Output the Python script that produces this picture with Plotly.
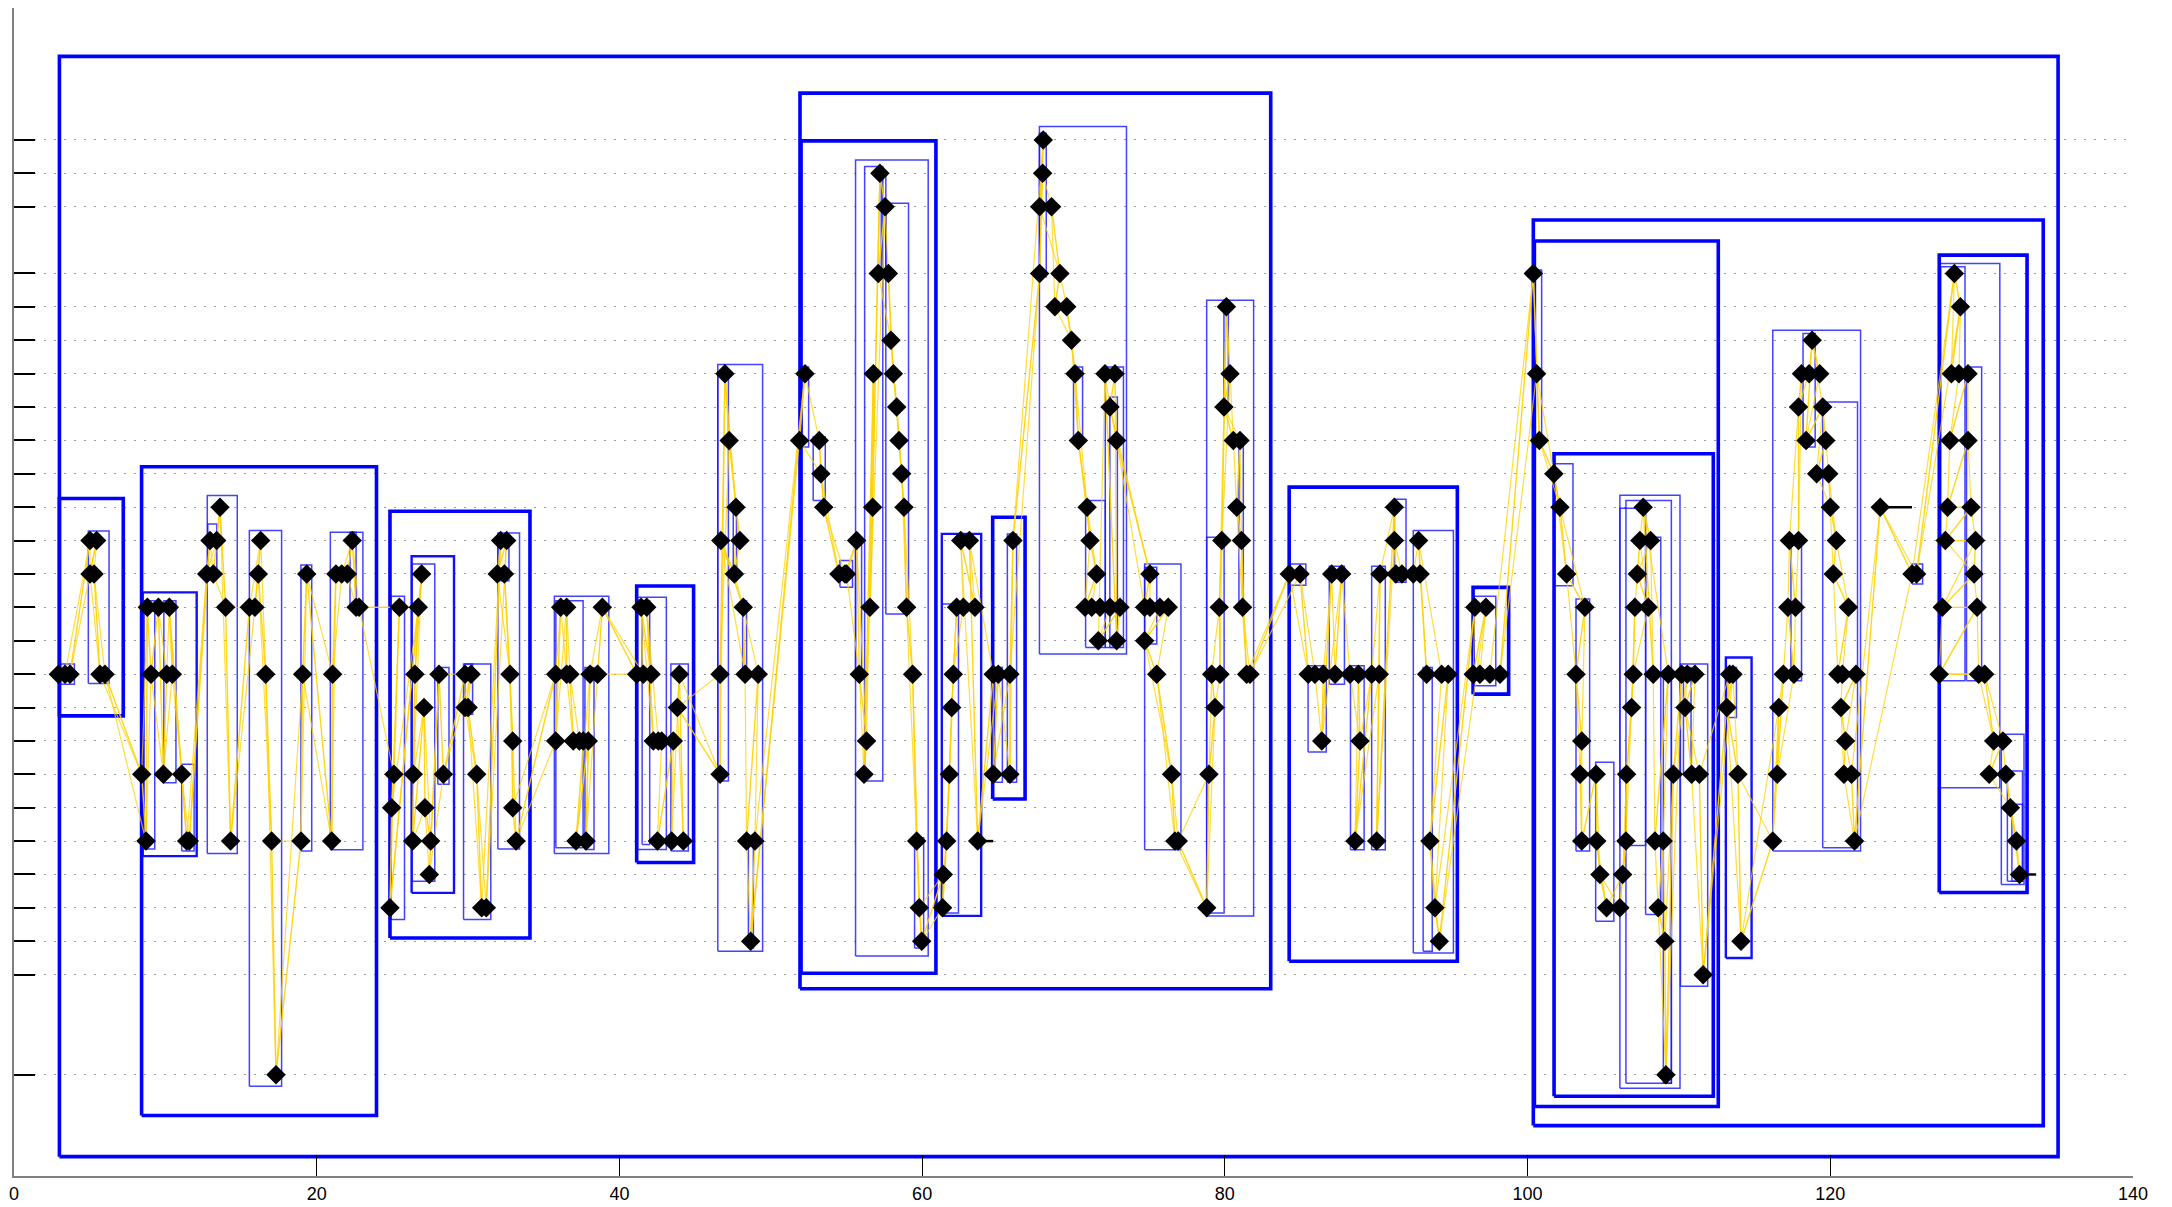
import plotly.graph_objects as go

# ---------------- data ----------------
# points (x, level) in drawing order (the yellow path follows this order)
pt_x = [
    2.93, 3.37, 3.70, 5.02, 5.46, 5.02, 5.29, 5.68, 6.01,
    8.44, 8.72, 8.81, 9.05, 9.54, 9.87, 10.09, 10.46, 10.26, 11.08, 11.41, 11.58,
    12.73, 12.95, 13.39, 13.17, 13.61, 13.98, 14.31,
    15.55, 15.92, 16.30, 16.14, 16.63, 17.02, 17.31,
    18.96, 19.07, 19.34,
    20.99, 21.05, 21.27, 21.65, 22.02, 22.35, 22.60, 22.80,
    25.46, 25.10, 24.95, 24.84, 26.71, 26.93, 26.49, 26.38, 26.34, 27.09, 27.15, 27.53, 27.44,
    28.08, 28.37, 29.80, 30.20, 29.80, 30.00, 30.57, 30.90, 31.20,
    32.15, 32.55, 31.93, 32.40, 32.77, 32.95, 32.95, 33.17,
    35.79, 35.79, 36.12, 36.51, 36.51, 36.73, 36.95, 37.35, 37.61, 37.94, 37.13, 37.79, 38.06, 38.56, 38.87,
    41.14, 41.58, 42.09, 41.43, 41.80, 42.24, 42.57, 42.79, 43.56, 42.51, 43.45, 44.22, 43.96, 43.83,
    46.65, 46.65, 46.97, 47.25, 47.70, 47.96, 47.60, 46.70, 48.18, 48.30, 49.17, 48.40, 48.95, 48.67,
    52.26, 51.90, 53.20, 53.31, 53.50, 54.50, 54.90, 55.00, 55.67, 55.85, 56.33, 56.16, 56.78, 56.73, 56.55,
    57.21, 57.55, 57.10, 57.77, 57.94, 58.10, 58.32, 58.47, 58.65, 58.80, 58.97, 59.37, 59.64, 59.81, 59.97,
    61.40, 61.35, 61.62, 61.80, 61.95, 62.06, 62.28, 62.72, 63.49, 62.55, 63.12, 63.67,
    64.70, 65.03, 64.70, 65.80, 65.80, 66.00,
    67.76, 68.00, 67.96, 67.76, 68.55, 69.10, 68.77, 69.55, 69.87, 70.10, 70.32, 70.90, 71.09, 71.53,
    70.76, 71.20, 71.75, 72.41, 73.07, 71.64, 72.85, 72.08, 72.74, 72.41, 72.85,
    75.05, 74.70, 75.05, 75.71, 76.26, 74.70, 75.50, 76.48, 76.70, 76.92,
    78.80, 78.95, 79.35, 79.13, 79.68, 79.63, 79.80, 80.10, 80.34, 79.94, 80.56, 81.00, 80.78, 81.10,
    81.17, 81.44, 81.66,
    84.26, 84.97, 85.51, 85.95, 86.50, 86.40, 87.06, 87.72, 87.28, 88.27, 88.82, 88.93, 88.60,
    89.70, 90.20, 90.25, 90.03, 91.20, 91.20, 91.30, 91.70, 92.45, 92.90, 92.80,
    93.33, 94.32, 94.76, 93.55, 93.88, 94.17,
    96.52, 97.25, 96.41, 96.85, 97.51, 98.18,
    100.38, 100.60, 100.78, 101.74, 102.14, 102.58, 103.79, 103.20, 103.58, 103.47, 103.58,
    104.53, 104.57, 104.78, 105.22, 106.10, 106.28, 106.50, 106.54, 106.87, 106.98, 107.09, 107.97,
    107.25, 107.42, 108.13, 107.64, 108.30, 109.30, 108.41, 108.96, 108.63, 109.07, 109.14, 109.63,
    110.18, 110.55, 111.06, 110.40, 110.84, 111.35, 111.60, 113.35, 113.57, 113.17, 113.90, 114.10,
    116.20, 116.60, 116.50, 116.90, 117.60, 117.20, 117.70, 117.30, 117.90, 117.90, 118.10, 118.60,
    119.30, 118.80, 118.40, 119.50, 119.70, 119.10, 119.90, 120.00, 120.40, 120.20, 121.20, 120.50,
    120.80, 121.70, 120.70, 121.00, 120.90, 121.40, 121.60,
    123.30, 125.40, 125.70,
    128.20, 128.60, 128.00, 128.50, 129.10, 127.90, 129.10, 127.75, 129.30, 127.60, 129.60, 129.50,
    127.40, 129.70, 127.20, 129.80, 130.20, 130.80, 131.40, 130.50, 131.60, 131.90, 132.30, 132.50,
]
pt_y = [
    12, 12, 12, 16, 16, 15, 15, 12, 12,
    9, 7, 14, 12, 14, 9, 12, 12, 14, 9, 7, 7,
    15, 16, 16, 15, 17, 14, 7,
    14, 14, 16, 15, 12, 7, 0,
    7, 12, 15,
    7, 12, 15, 15, 15, 16, 14, 14,
    14, 9, 8, 5, 14, 15, 12, 9, 7, 11, 8, 7, 6,
    12, 9, 12, 12, 11, 11, 9, 5, 5,
    16, 16, 15, 15, 12, 10, 8, 7,
    12, 10, 14, 14, 12, 12, 10, 10, 10, 10, 7, 7, 12, 12, 14,
    12, 12, 12, 14, 14, 10, 10, 10, 10, 7, 7, 7, 12, 11,
    9, 12, 21, 19, 17, 16, 15, 16, 14, 12, 12, 7, 7, 4,
    21, 19, 19, 18, 17, 15, 15, 15, 16, 12, 10, 9, 21, 17, 14,
    27, 26, 24, 24, 22, 21, 20, 19, 18, 17, 14, 12, 7, 5, 4,
    6, 5, 7, 9, 11, 12, 14, 14, 14, 16, 16, 7,
    12, 12, 9, 9, 12, 16,
    24, 28, 27, 26, 26, 24, 23, 23, 22, 21, 19, 17, 16, 15,
    14, 14, 14, 14, 14, 13, 13, 21, 21, 20, 19,
    15, 14, 14, 14, 14, 13, 12, 9, 7, 7,
    5, 9, 11, 12, 12, 14, 16, 23, 21, 20, 19, 19, 17, 16,
    14, 12, 12,
    15, 15, 12, 12, 12, 10, 15, 15, 12, 12, 12, 10, 7,
    12, 12, 15, 7, 17, 16, 15, 15, 15, 15, 16,
    12, 12, 12, 7, 5, 4,
    14, 14, 12, 12, 12, 12,
    24, 21, 19, 18, 17, 15, 14, 12, 10, 9, 7,
    9, 7, 6, 5, 5, 6, 7, 9, 11, 12, 14, 14,
    15, 16, 16, 17, 12, 12, 7, 7, 5, 4, 0, 9,
    12, 12, 12, 11, 9, 9, 3, 12, 12, 11, 9, 4,
    7, 11, 9, 12, 12, 14, 14, 16, 16, 20, 21, 21,
    21, 22, 19, 20, 19, 18, 18, 17, 16, 15, 14, 12,
    12, 12, 11, 10, 9, 9, 7,
    17, 15, 15,
    24, 23, 21, 21, 21, 19, 19, 17, 17, 16, 16, 15,
    14, 14, 12, 12, 12, 10, 10, 9, 9, 8, 7, 6,
]

# short black tails (start x, end x, level)
tail_x0 = [63.67, 123.30, 132.50]
tail_x1 = [64.70, 125.40, 133.60]
tail_y = [7, 17, 6]

# cluster boxes: (x0, x1, y0, y1) in data units
box_thick = [
    (3.00, 135.05, -2.45, 30.50),
    (3.00, 7.22, 10.75, 17.26),
    (8.43, 23.95, -1.22, 18.21),
    (24.84, 34.09, 4.10, 16.88),
    (41.14, 44.90, 6.36, 14.64),
    (51.93, 83.03, 2.58, 29.40),
    (52.00, 60.91, 3.04, 27.97),
    (64.66, 66.80, 8.26, 16.70),
    (84.25, 95.36, 3.40, 17.60),
    (96.40, 98.75, 11.40, 14.60),
    (100.38, 134.07, -1.52, 25.60),
    (100.45, 112.60, -0.95, 24.97),
    (101.75, 112.27, -0.64, 18.60),
    (127.20, 133.00, 5.46, 24.55),
]
box_medium = [
    (8.50, 12.07, 6.55, 14.45),
    (26.27, 29.07, 5.45, 15.53),
    (113.10, 114.80, 3.50, 12.50),
    (61.30, 63.90, 4.76, 16.20),
]
box_thin = [
    (3.08, 3.99, 11.70, 12.30), (4.91, 6.28, 11.72, 16.29),
    (8.60, 9.30, 6.76, 14.20), (9.90, 10.70, 8.75, 14.20), (11.08, 11.90, 6.70, 9.30),
    (12.77, 14.75, 6.63, 17.35), (12.80, 13.40, 15.00, 16.50),
    (15.55, 17.68, -0.34, 16.30), (18.96, 19.67, 6.70, 15.27),
    (20.90, 23.05, 6.74, 16.25), (22.20, 22.60, 14.00, 16.25),
    (24.90, 25.80, 4.65, 14.33), (26.30, 27.80, 5.80, 15.30), (28.00, 28.74, 8.70, 12.20),
    (29.70, 31.50, 4.65, 12.30), (29.80, 30.30, 10.80, 12.30),
    (31.97, 33.40, 6.76, 16.23), (31.97, 32.70, 14.80, 16.10),
    (35.70, 39.30, 6.63, 14.33), (35.80, 37.60, 6.80, 14.20), (37.72, 38.32, 6.75, 12.20),
    (41.20, 43.10, 6.75, 14.30), (41.50, 42.00, 6.90, 14.20), (43.40, 44.55, 6.70, 12.30),
    (46.50, 49.46, 3.70, 21.27), (46.50, 47.20, 8.80, 21.00), (47.52, 47.74, 14.80, 17.16),
    (48.14, 48.40, 11.80, 14.20), (48.52, 48.85, 3.80, 7.17),
    (51.90, 52.50, 18.80, 21.20), (52.80, 53.60, 17.20, 19.10), (54.57, 55.40, 14.60, 15.40),
    (55.60, 56.00, 12.00, 16.10), (55.60, 60.40, 3.56, 27.40), (56.20, 57.40, 8.80, 27.20),
    (57.60, 59.10, 13.80, 26.10), (57.30, 57.60, 23.90, 27.00), (59.50, 60.10, 3.80, 7.10),
    (61.30, 62.40, 4.85, 14.10), (64.80, 65.30, 8.76, 12.20), (65.63, 66.24, 8.76, 16.20),
    (67.75, 73.50, 12.60, 28.40), (67.75, 68.20, 23.90, 28.20), (70.00, 70.60, 19.05, 21.20),
    (70.80, 72.10, 12.80, 17.20), (72.10, 73.30, 12.80, 21.20), (72.40, 72.90, 12.80, 20.30),
    (74.70, 77.10, 6.74, 15.30), (74.70, 75.50, 12.90, 15.20),
    (78.80, 81.90, 4.76, 23.20), (78.80, 79.95, 4.85, 16.10), (79.94, 80.23, 19.90, 23.20),
    (80.93, 81.22, 13.90, 19.05),
    (84.25, 85.35, 14.66, 15.30), (85.50, 86.70, 9.67, 12.25), (86.90, 87.90, 11.70, 15.23),
    (88.30, 89.20, 6.74, 12.25), (89.70, 90.60, 6.74, 15.23), (91.20, 91.97, 14.75, 17.24),
    (92.45, 95.10, 3.65, 16.30), (93.10, 93.70, 3.70, 12.20), (96.45, 97.90, 11.65, 14.33),
    (100.45, 100.93, 18.80, 24.10), (101.75, 103.00, 14.65, 18.30), (103.20, 104.10, 6.70, 14.25),
    (104.50, 105.70, 4.60, 9.36), (106.10, 110.07, -0.40, 17.36), (106.50, 109.50, -0.25, 17.20),
    (106.10, 107.80, 6.87, 16.97), (107.80, 108.80, 4.80, 16.10), (108.97, 109.50, -0.25, 12.10),
    (110.10, 111.90, 2.65, 12.30), (110.30, 110.80, 9.00, 12.20), (113.15, 113.80, 10.70, 12.20),
    (116.20, 122.00, 6.70, 22.30), (118.20, 119.00, 18.80, 22.20), (119.50, 121.80, 6.80, 20.15),
    (117.40, 118.10, 11.80, 16.10), (125.40, 126.10, 14.70, 15.30),
    (127.25, 131.20, 8.60, 24.30), (127.30, 128.90, 11.80, 24.20), (129.00, 130.00, 11.80, 21.20),
    (131.30, 132.80, 5.70, 10.20), (131.70, 132.70, 5.80, 9.10), (132.00, 132.70, 5.80, 8.10),
]

x_ticks = [0, 20, 40, 60, 80, 100, 120, 140]
x_tick_text = ["0", "20", "40", "60", "80", "100", "120", "140"]
y_levels = [0] + list(range(3, 25)) + [26, 27, 28]


def rect_path(boxes):
    xs, ys = [], []
    for x0, x1, y0, y1 in boxes:
        xs += [x0, x1, x1, x0, x0, None]
        ys += [y0, y0, y1, y1, y0, None]
    return xs, ys


fig = go.Figure()

bx, by = rect_path(box_thin)
fig.add_trace(go.Scatter(x=bx, y=by, mode="lines", hoverinfo="skip",
                         line=dict(color="rgba(20,20,255,0.8)", width=1.5)))
bx, by = rect_path(box_medium)
fig.add_trace(go.Scatter(x=bx, y=by, mode="lines", hoverinfo="skip",
                         line=dict(color="#1010ff", width=2.4)))
bx, by = rect_path(box_thick)
fig.add_trace(go.Scatter(x=bx, y=by, mode="lines", hoverinfo="skip",
                         line=dict(color="#0000ff", width=3.6)))

# yellow connecting links: consecutive points and every second point
fig.add_trace(go.Scatter(x=pt_x, y=pt_y, mode="lines", hoverinfo="skip",
                         line=dict(color="rgba(255,210,0,0.9)", width=1.4)))
lx, ly = [], []
for i in range(len(pt_x) - 2):
    lx += [pt_x[i], pt_x[i + 2], None]
    ly += [pt_y[i], pt_y[i + 2], None]
fig.add_trace(go.Scatter(x=lx, y=ly, mode="lines", hoverinfo="skip",
                         line=dict(color="rgba(255,210,0,0.75)", width=1.2)))

# black tails
tx, ty = [], []
for a, b, c in zip(tail_x0, tail_x1, tail_y):
    tx += [a, b, None]
    ty += [c, c, None]
fig.add_trace(go.Scatter(x=tx, y=ty, mode="lines", hoverinfo="skip",
                         line=dict(color="black", width=2.5)))

# diamonds
fig.add_trace(go.Scatter(x=pt_x, y=pt_y, mode="markers",
                         marker=dict(symbol="diamond", size=15, color="black",
                                     line=dict(width=0))))

fig.update_layout(
    width=2164, height=1199,
    margin=dict(l=6, r=39, t=0, b=31),
    paper_bgcolor="white", plot_bgcolor="white",
    showlegend=False,
    font=dict(family="Liberation Sans, Arial, sans-serif", size=18, color="black"),
)
fig.update_xaxes(
    range=[0, 140], tickvals=x_ticks, ticktext=x_tick_text,
    ticks="inside", ticklen=21, tickwidth=1, tickcolor="black",
    showline=True, linecolor="#808080", linewidth=2,
    showgrid=False, zeroline=False,
)
fig.update_yaxes(
    range=[-3.03, 31.95], tickvals=y_levels, showticklabels=False,
    ticks="inside", ticklen=21, tickwidth=1.5, tickcolor="black",
    showline=True, linecolor="#808080", linewidth=2,
    showgrid=True, gridcolor="#9a9a9a", gridwidth=1, griddash="2px,8px",
    zeroline=False,
)

fig.write_html("out.html")
